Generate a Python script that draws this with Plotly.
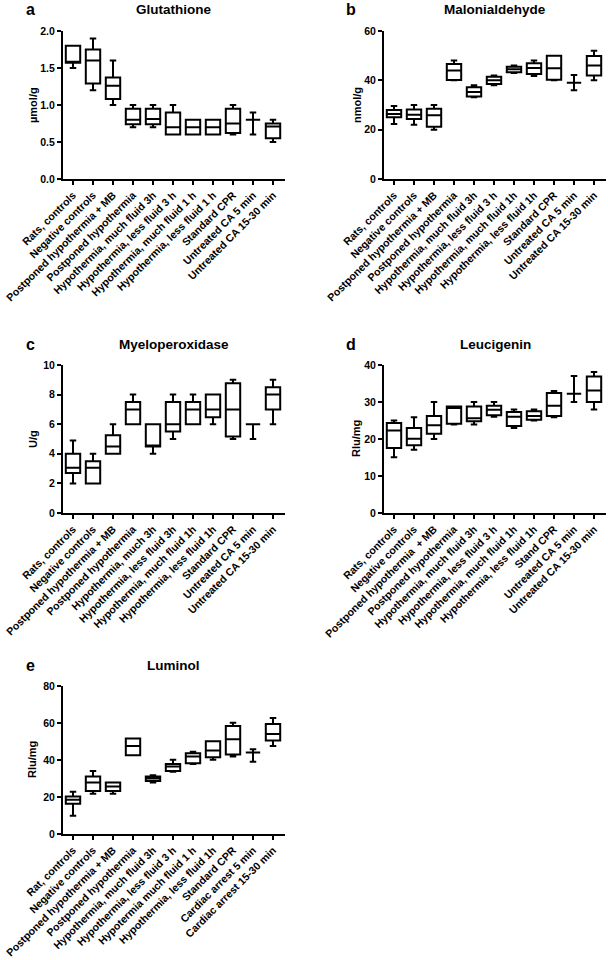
import plotly.graph_objects as go

W, H = 608, 960

# ---------------- data ----------------
cats_a = ["Rats, controls", "Negative controls", "Postponed hypothermia + MB",
          "Postponed hypothermia", "Hypothermia, much fluid 3h", "Hypothermia, less fluid 3 h",
          "Hypothermia, much fluid 1 h", "Hypothermia, less fluid 1 h", "Standard CPR",
          "Untreated CA 5 min", "Untreated CA 15-30 min"]
cats_b = ["Rats, controls", "Negative controls", "Postponed hypothermia + MB",
          "Postponed hypothermia", "Hypothermia, much fluid 3h", "Hypothermia, less fluid 3 h",
          "Hypothermia, much fluid 1h", "Hypothermia, less fluid 1h", "Standard CPR",
          "Untreated CA 5 min", "Untreated CA 15-30 min"]
cats_c = ["Rats, controls", "Negative controls", "Postponed hypothermia + MB",
          "Postponed hypothermia", "Hypothermia, much 3h", "Hypothermia, less fluid 3h",
          "Hypothermia, much fluid 1h", "Hypothermia, less fluid 1h", "Standard CPR",
          "Untreated CA 5 min", "Untreated CA 15-30 min"]
cats_d = ["Rats, controls", "Negative controls", "Postponed hypothermia  + MB",
          "Postponed hypothermia", "Hypothermia, much fluid 3h", "Hypothermia, less fluid 3 h",
          "Hypothermia, much fluid 1h", "Hypothermia, less fluid 1h", "Stand CPR",
          "Untreated CA 5 min", "Untreated CA 15-30 min"]
cats_e = ["Rat, controls", "Negative controls", "Postponed hypothermia + MB",
          "Postponed hypothermia", "Hypothermia, much fluid 3h", "Hypothermia, less fluid 3 h",
          "Hypotermia much fluid 1 h", "Hypothermia, less fluid 1h", "Standard CPR",
          "Cardiac arrest 5 min", "Cardiac arrest 15-30 min"]

# Glutathione (µmol/g)
a_low = [1.50, 1.20, 1.00, 0.70, 0.70, 0.60, 0.60, 0.60, 0.60, 0.60, 0.50]
a_q1  = [1.57, 1.29, 1.08, 0.74, 0.74, 0.60, 0.60, 0.60, 0.62, 0.80, 0.55]
a_med = [1.58, 1.60, 1.26, 0.80, 0.81, 0.70, 0.70, 0.70, 0.75, 0.80, 0.71]
a_q3  = [1.80, 1.75, 1.37, 0.95, 0.95, 0.90, 0.80, 0.80, 0.95, 0.80, 0.75]
a_up  = [1.80, 1.90, 1.60, 1.00, 1.00, 1.00, 0.80, 0.80, 1.00, 0.90, 0.80]

# Malonialdehyde (nmol/g)
b_low = [22.3, 22.0, 20.0, 40.0, 33.1, 38.0, 43.0, 41.8, 40.0, 36.0, 40.0]
b_q1  = [25.0, 24.3, 21.2, 40.1, 33.4, 38.5, 43.3, 42.6, 40.2, 39.0, 42.0]
b_med = [26.4, 26.0, 25.8, 44.0, 35.3, 40.0, 44.5, 45.0, 44.9, 39.0, 46.0]
b_q3  = [28.0, 28.2, 28.5, 46.6, 37.2, 41.5, 45.5, 46.9, 50.0, 39.0, 49.9]
b_up  = [29.6, 30.0, 30.0, 48.0, 38.0, 42.0, 46.0, 48.0, 50.0, 42.2, 52.0]

# Myeloperoxidase (U/g)
c_low = [2.0, 2.0, 4.0, 6.0, 4.0, 5.0, 6.0, 6.0, 5.0, 5.0, 6.0]
c_q1  = [2.7, 2.0, 4.0, 6.0, 4.5, 5.5, 6.0, 6.47, 5.17, 6.0, 7.0]
c_med = [3.06, 3.06, 4.5, 7.0, 4.5, 6.0, 7.0, 7.0, 7.0, 6.0, 8.0]
c_q3  = [4.0, 3.5, 5.26, 7.5, 6.0, 7.5, 7.5, 8.0, 8.76, 6.0, 8.5]
c_up  = [4.9, 4.0, 6.0, 8.0, 6.0, 8.0, 8.0, 8.0, 9.0, 6.0, 9.0]

# Leucigenin (Rlu/mg)
d_low = [15.1, 17.1, 20.0, 23.9, 23.9, 26.0, 23.0, 25.0, 25.9, 30.0, 28.0]
d_q1  = [17.6, 18.3, 21.4, 24.1, 24.8, 26.4, 23.5, 25.2, 26.2, 32.2, 30.0]
d_med = [22.3, 20.1, 23.7, 28.4, 25.6, 27.9, 26.0, 26.2, 29.0, 32.2, 33.1]
d_q3  = [24.3, 23.0, 26.2, 28.8, 28.8, 29.0, 27.3, 27.5, 32.4, 32.2, 36.9]
d_up  = [25.0, 25.9, 30.0, 28.8, 30.0, 30.0, 28.0, 28.0, 33.0, 37.0, 38.1]

# Luminol (Rlu/mg)
e_low = [9.9, 21.8, 21.8, 42.6, 27.9, 33.6, 37.9, 40.1, 41.9, 39.0, 47.6]
e_q1  = [16.4, 23.2, 23.2, 42.6, 28.6, 34.0, 38.3, 41.5, 43.0, 44.0, 50.5]
e_med = [18.5, 27.9, 25.7, 47.6, 30.0, 36.5, 41.9, 45.1, 51.2, 44.0, 54.1]
e_q3  = [20.3, 31.1, 27.9, 51.6, 31.1, 37.9, 43.7, 50.2, 58.4, 44.0, 59.5]
e_up  = [22.8, 34.0, 27.9, 51.6, 31.8, 40.1, 44.4, 50.2, 60.2, 45.8, 62.7]

panels = [
    dict(letter="a", title="Glutathione", ylab="µmol/g", cats=cats_a,
         vals=(a_low, a_q1, a_med, a_q3, a_up), yr=[0, 2.0], dt=0.5, fmt=".1f",
         x0=63, y0=179, y1=31, ylx=33),
    dict(letter="b", title="Malonialdehyde", ylab="nmol/g", cats=cats_b,
         vals=(b_low, b_q1, b_med, b_q3, b_up), yr=[0, 60], dt=20, fmt="d",
         x0=384, y0=179, y1=31, ylx=357),
    dict(letter="c", title="Myeloperoxidase", ylab="U/g", cats=cats_c,
         vals=(c_low, c_q1, c_med, c_q3, c_up), yr=[0, 10], dt=2, fmt="d",
         x0=63, y0=513, y1=365, ylx=33),
    dict(letter="d", title="Leucigenin", ylab="Rlu/mg", cats=cats_d,
         vals=(d_low, d_q1, d_med, d_q3, d_up), yr=[0, 40], dt=10, fmt="d",
         x0=384, y0=513, y1=365, ylx=356),
    dict(letter="e", title="Luminol", ylab="Rlu/mg", cats=cats_e,
         vals=(e_low, e_q1, e_med, e_q3, e_up), yr=[0, 80], dt=20, fmt="d",
         x0=63, y0=834, y1=686, ylx=32),
]

FONT = "Liberation Sans"
fig = go.Figure()
annotations = []
layout = {}
AXW = 222  # axis length in px

for i, p in enumerate(panels, start=1):
    sfx = "" if i == 1 else str(i)
    low, q1, med, q3, up = p["vals"]
    fig.add_trace(go.Box(
        x=p["cats"], q1=q1, median=med, q3=q3, lowerfence=low, upperfence=up,
        xaxis="x" + sfx, yaxis="y" + sfx,
        line=dict(color="black", width=2), fillcolor="white",
        width=0.72, whiskerwidth=0.45, boxpoints=False, showlegend=False,
    ))
    xd = [p["x0"] / W, min((p["x0"] + AXW) / W, 1.0)]
    yd = [1 - p["y0"] / H, 1 - p["y1"] / H]
    layout["xaxis" + sfx] = dict(
        domain=xd, anchor="y" + sfx, type="category", range=[-0.5, 10.6],
        tickangle=-45, ticks="outside", ticklen=4, tickwidth=2, tickcolor="black",
        showline=True, linewidth=2, linecolor="black", showgrid=False, zeroline=False,
        automargin=False,
        tickfont=dict(family=FONT, size=10.6, color="black", weight="bold"),
    )
    layout["yaxis" + sfx] = dict(
        domain=yd, anchor="x" + sfx, range=p["yr"], dtick=p["dt"], tick0=0,
        tickformat=p["fmt"], ticks="outside", ticklen=4, tickwidth=2, tickcolor="black",
        showline=True, linewidth=2, linecolor="black", showgrid=False, zeroline=False,
        automargin=False,
        tickfont=dict(family=FONT, size=10.5, color="black", weight="bold"),
    )
    # panel title
    annotations.append(dict(
        text="<b>%s</b>" % p["title"], x=(p["x0"] + 111) / W, y=1 - (p["y1"] - 21) / H,
        xref="paper", yref="paper", showarrow=False, xanchor="center", yanchor="middle",
        font=dict(family=FONT, size=13.5, color="black")))
    # panel letter
    annotations.append(dict(
        text="<b>%s</b>" % p["letter"], x=(p["x0"] - 33) / W, y=1 - (p["y1"] - 21) / H,
        xref="paper", yref="paper", showarrow=False, xanchor="center", yanchor="middle",
        font=dict(family=FONT, size=16, color="black")))
    # y-axis title
    annotations.append(dict(
        text="<b>%s</b>" % p["ylab"], x=p["ylx"] / W, y=1 - ((p["y0"] + p["y1"]) / 2) / H,
        xref="paper", yref="paper", showarrow=False, xanchor="center", yanchor="middle",
        textangle=-90, font=dict(family=FONT, size=11, color="black")))

fig.update_layout(
    width=W, height=H, margin=dict(l=0, r=0, t=0, b=0, autoexpand=False),
    paper_bgcolor="white", plot_bgcolor="white",
    annotations=annotations, showlegend=False, **layout,
)

fig.write_html("out.html", config={"displayModeBar": False},
               post_script="document.body.style.margin='0';document.body.style.overflow='hidden';")
